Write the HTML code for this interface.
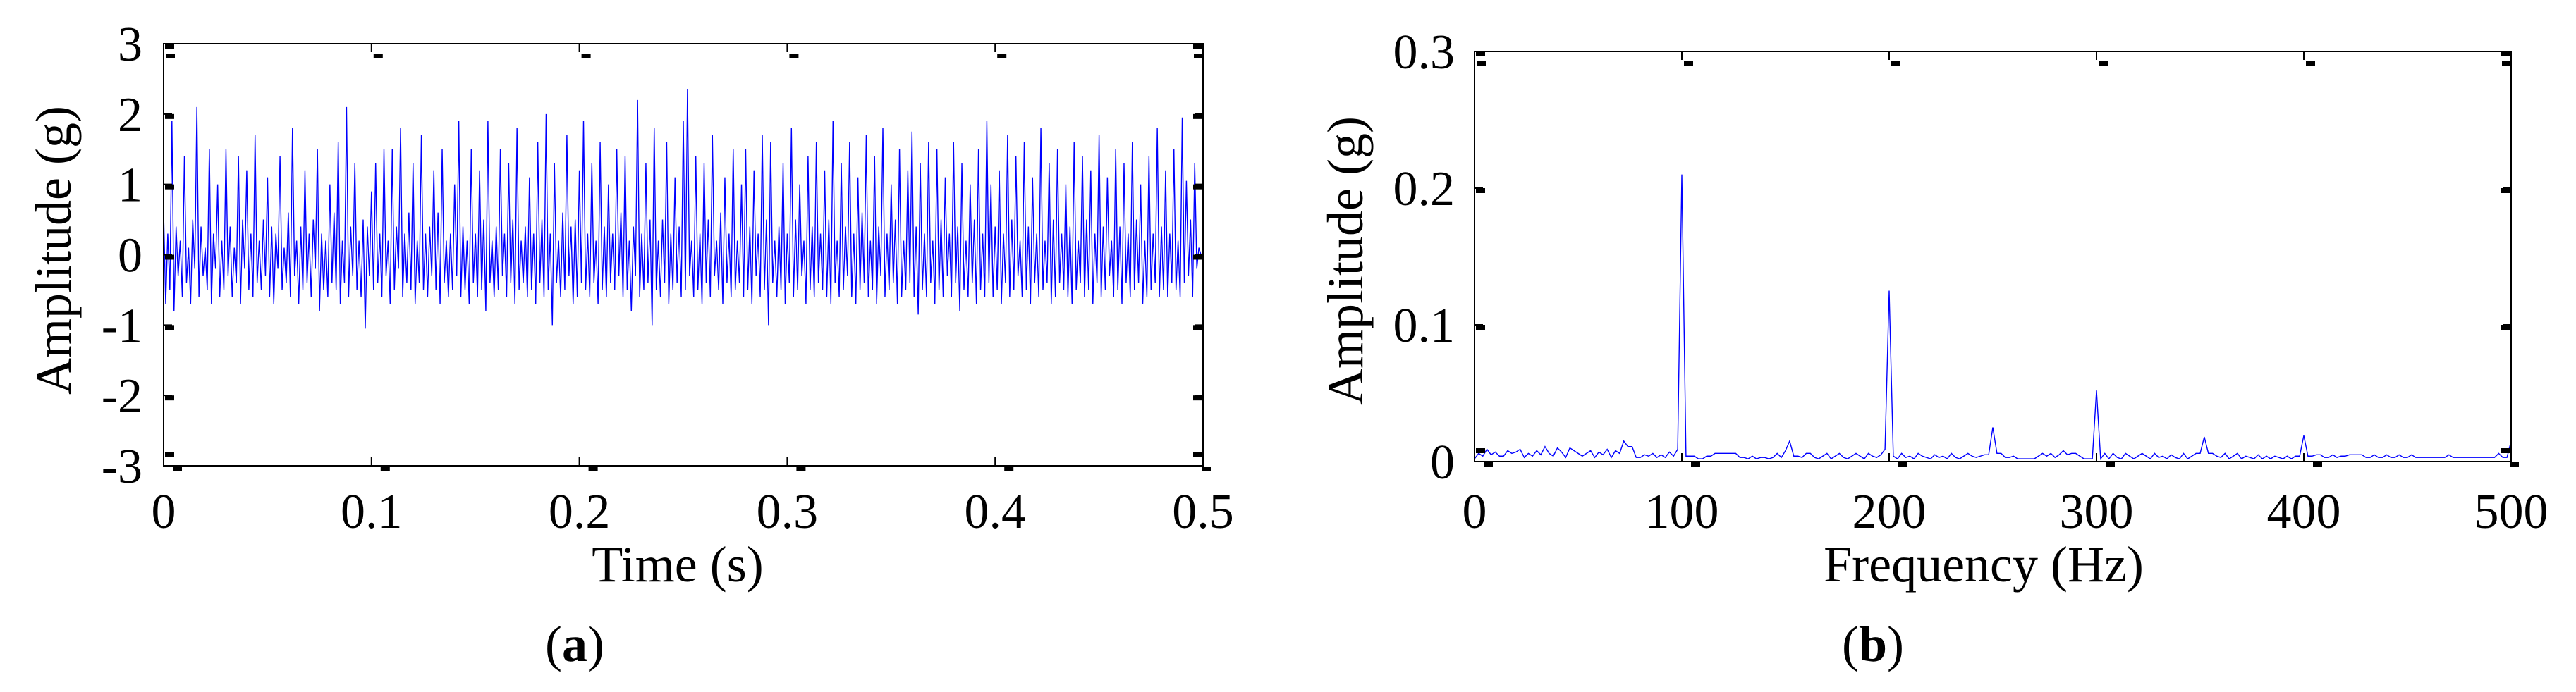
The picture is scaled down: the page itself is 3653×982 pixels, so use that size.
<!DOCTYPE html>
<html><head><meta charset="utf-8"><style>
html,body{margin:0;padding:0;background:#fff;}
svg{display:block;}
svg text{font-family:"Liberation Serif","Times New Roman","DejaVu Serif",serif !important;fill:#000;}
</style></head><body>
<svg id="fig" width="3653" height="982" viewBox="0 0 3653 982" font-family="Liberation Serif, serif" xmlns="http://www.w3.org/2000/svg">
<g id="chartA"></g>
<g id="chartB"></g>
<text x="815" y="938" font-size="72" text-anchor="middle" font-family="Liberation Serif, serif">(<tspan font-weight="bold">a</tspan>)</text>
<text x="2656" y="938" font-size="72" text-anchor="middle" font-family="Liberation Serif, serif">(<tspan font-weight="bold">b</tspan>)</text>
</svg>
<script>
// ---- Chart A data (time signal, 1 ms step) ----
const timeStep = 0.001;
const timeSignal = [
0.6,-0.7,0.3,-0.5,1.9,-0.8,0.4,-0.3,0.2,-0.6,1.4,-0.4,0.1,-0.7,0.5,-0.2,2.1,-0.6,0.4,-0.3,
0.1,-0.5,1.5,-0.7,0.3,-0.2,1.0,-0.6,0.2,-0.5,1.5,-0.3,0.4,-0.6,0.1,-0.4,1.4,-0.7,0.5,-0.2,
1.2,-0.5,0.3,-0.6,1.7,-0.4,0.2,-0.5,0.5,-0.3,1.1,-0.6,0.4,-0.7,0.3,-0.2,1.4,-0.5,0.1,-0.4,
0.6,-0.6,1.8,-0.3,0.2,-0.7,0.4,-0.5,1.2,-0.4,0.3,-0.6,0.5,-0.2,1.5,-0.8,0.3,-0.5,0.2,-0.6,
1.0,-0.4,0.6,-0.5,1.6,-0.7,0.2,-0.4,2.1,-0.6,0.4,-0.3,1.3,-0.5,0.2,-0.6,0.5,-1.05,0.4,-0.3,
0.9,-0.5,1.3,-0.4,0.3,-0.6,1.5,-0.3,0.2,-0.7,1.5,-0.5,0.4,-0.2,1.8,-0.6,0.3,-0.4,0.6,-0.5,
1.3,-0.7,0.2,-0.4,1.7,-0.5,0.3,-0.6,0.4,-0.3,1.2,-0.5,0.6,-0.7,1.5,-0.4,0.2,-0.6,0.3,-0.5,
1.0,-0.3,1.9,-0.6,0.4,-0.5,0.2,-0.7,1.5,-0.4,0.3,-0.6,1.2,-0.5,0.5,-0.8,1.9,-0.4,0.2,-0.6,
0.4,-0.5,1.5,-0.3,0.3,-0.6,1.3,-0.4,0.5,-0.7,1.8,-0.5,0.2,-0.4,0.4,-0.6,1.1,-0.5,0.3,-0.7,
1.6,-0.4,0.5,-0.6,2.0,-0.5,0.3,-1.0,1.3,-0.4,0.2,-0.6,0.6,-0.5,1.7,-0.3,0.4,-0.7,0.5,-0.6,
1.2,-0.4,1.9,-0.5,0.3,-0.6,1.3,-0.4,0.2,-0.7,1.6,-0.5,0.4,-0.6,1.0,-0.4,0.3,-0.5,1.5,-0.3,
0.6,-0.6,1.4,-0.5,0.2,-0.8,0.4,-0.3,2.2,-0.6,0.3,-0.5,1.3,-0.4,0.5,-1.0,1.8,-0.5,0.2,-0.6,
0.5,-0.4,1.6,-0.7,0.3,-0.5,1.1,-0.4,0.4,-0.6,1.9,-0.5,2.35,-0.3,0.2,-0.6,1.4,-0.5,0.3,-0.7,
1.3,-0.4,0.5,-0.6,1.7,-0.3,0.2,-0.5,0.6,-0.7,1.1,-0.4,0.3,-0.6,1.5,-0.5,0.2,-0.4,1.0,-0.6,
1.5,-0.5,0.4,-0.7,1.2,-0.3,0.3,-0.6,1.7,-0.5,0.5,-1.0,1.6,-0.4,0.2,-0.6,0.4,-0.5,1.3,-0.7,
0.3,-0.4,1.8,-0.6,0.5,-0.5,1.0,-0.3,0.2,-0.7,1.4,-0.5,0.4,-0.6,1.6,-0.4,0.3,-0.5,1.2,-0.6,
0.5,-0.7,1.9,-0.4,0.2,-0.6,1.3,-0.5,0.4,-0.3,1.6,-0.6,0.3,-0.7,1.1,-0.5,0.6,-0.4,1.7,-0.6,
0.2,-0.5,1.4,-0.7,0.4,-0.3,1.8,-0.6,0.3,-0.5,1.0,-0.4,0.5,-0.7,1.5,-0.6,0.2,-0.5,1.2,-0.4,
1.75,-0.6,0.4,-0.85,1.3,-0.5,0.3,-0.6,1.6,-0.4,0.2,-0.7,1.5,-0.5,0.5,-0.6,1.1,-0.3,0.3,-0.6,
1.6,-0.4,0.4,-0.8,1.3,-0.5,0.2,-0.6,1.0,-0.4,0.5,-0.7,1.5,-0.5,0.3,-0.6,1.9,-0.4,1.0,-0.6,
0.4,-0.5,1.2,-0.7,0.3,-0.4,1.7,-0.6,0.5,-0.5,1.4,-0.3,0.2,-0.6,1.6,-0.5,0.4,-0.7,1.1,-0.4,
0.3,-0.6,1.8,-0.5,0.2,-0.4,1.3,-0.7,0.5,-0.6,1.5,-0.4,0.3,-0.5,1.0,-0.6,0.4,-0.7,1.6,-0.5,
0.2,-0.4,1.4,-0.6,0.5,-0.5,1.2,-0.7,0.3,-0.4,1.7,-0.6,0.4,-0.5,1.1,-0.3,0.2,-0.6,1.5,-0.5,
0.4,-0.7,1.3,-0.4,0.3,-0.6,1.6,-0.5,0.5,-0.4,1.0,-0.7,0.2,-0.6,1.4,-0.5,0.3,-0.4,1.8,-0.6,
0.4,-0.5,1.2,-0.6,0.3,-0.4,1.5,-0.5,0.2,-0.6,1.95,-0.4,1.05,-0.3,0.5,-0.6,1.3,-0.2,0.1,0.0
];
const xTicksA = [0,0.1,0.2,0.3,0.4,0.5];
const xTickLabelsA = ["0","0.1","0.2","0.3","0.4","0.5"];
const yTicksA = [-3,-2,-1,0,1,2,3];
const yTickLabelsA = ["-3","-2","-1","0","1","2","3"];

// ---- Chart B data (spectrum, 2 Hz step) ----
const freqStep = 2;
const spectrumAmp = [
0.002,0.006,0.004,0.009,0.005,0.007,0.004,0.004,0.008,0.006,0.007,0.009,0.003,0.006,0.004,0.008,0.005,0.011,0.006,0.004,0.010,0.007,0.003,0.010,0.008,
0.006,0.004,0.006,0.008,0.003,0.007,0.005,0.009,0.003,0.008,0.006,0.015,0.011,0.011,0.003,0.003,0.005,0.004,0.006,0.003,0.005,0.003,0.007,0.004,0.009,
0.210,0.004,0.004,0.004,0.002,0.002,0.004,0.004,0.006,0.006,0.006,0.006,0.006,0.006,0.003,0.003,0.002,0.004,0.002,0.003,0.003,0.002,0.003,0.006,0.003,
0.008,0.015,0.004,0.004,0.003,0.006,0.006,0.003,0.002,0.004,0.006,0.002,0.004,0.006,0.003,0.002,0.004,0.006,0.004,0.002,0.006,0.004,0.003,0.005,0.009,
0.125,0.004,0.002,0.006,0.003,0.004,0.002,0.006,0.004,0.003,0.002,0.005,0.003,0.004,0.002,0.006,0.003,0.002,0.004,0.006,0.004,0.003,0.004,0.005,0.005,
0.025,0.006,0.006,0.003,0.003,0.004,0.002,0.002,0.002,0.002,0.002,0.004,0.006,0.004,0.006,0.003,0.005,0.008,0.005,0.006,0.006,0.004,0.002,0.002,0.002,
0.052,0.002,0.006,0.002,0.006,0.003,0.002,0.006,0.004,0.002,0.004,0.006,0.004,0.002,0.006,0.003,0.004,0.002,0.005,0.003,0.002,0.006,0.002,0.004,0.006,
0.006,0.018,0.006,0.006,0.004,0.003,0.006,0.002,0.004,0.006,0.002,0.004,0.003,0.002,0.005,0.002,0.004,0.002,0.004,0.003,0.002,0.004,0.002,0.004,0.004,
0.019,0.004,0.004,0.005,0.005,0.003,0.003,0.005,0.003,0.004,0.004,0.005,0.005,0.005,0.005,0.003,0.003,0.005,0.003,0.003,0.005,0.003,0.003,0.005,0.003,
0.003,0.005,0.003,0.003,0.003,0.003,0.003,0.003,0.003,0.003,0.005,0.003,0.003,0.003,0.003,0.003,0.003,0.003,0.003,0.003,0.003,0.003,0.006,0.003,0.003,
0.015
];
const xTicksB = [0,100,200,300,400,500];
const xTickLabelsB = ["0","100","200","300","400","500"];
const yTicksB = [0,0.1,0.2,0.3];
const yTickLabelsB = ["0","0.1","0.2","0.3"];

const NS = "http://www.w3.org/2000/svg";
const FONT = "Liberation Serif, Times New Roman, serif";
function mk(parent, tag, attrs){
  const e = document.createElementNS(NS, tag);
  for (const k in attrs) e.setAttribute(k, attrs[k]);
  parent.appendChild(e);
  return e;
}

function drawChart(g, cfg){
  const {L,R,T,B,xmin,xmax,ymin,ymax} = cfg;
  const sx = v => L + (v - xmin) / (xmax - xmin) * (R - L);
  const sy = v => B - (v - ymin) / (ymax - ymin) * (B - T);
  let d = "";
  cfg.ys.forEach((v,i) => { d += (i ? "L" : "M") + sx(cfg.xs(i)).toFixed(2) + " " + sy(v).toFixed(2); });
  const line = mk(g, "path", {d: d, fill: "none", stroke: "#0000ff", "stroke-width": "1.4", "stroke-linejoin": "miter"});
  
  
  const frame = mk(g, "rect", {x: L, y: T, width: R - L, height: B - T, fill: "none", stroke: "#000", "stroke-width": "2"});
  
  
  cfg.xTicks.forEach((t,i) => {
    const x = sx(t);
    const tk = mk(g, "path", {d: `M${x} ${B}V${B-12}M${x} ${T}V${T+12}`, stroke: "#000", "stroke-width": "2"});
    
    
    const s1 = mk(g, "rect", {x: Math.min(x + 3, R - 13), y: T + 14, width: 13, height: 7, fill: "#000"});
    
    
    const s2 = mk(g, "rect", {x: Math.min(x + 13, R - 2), y: B + 1, width: 13, height: 7, fill: "#000"});
    
    
    const lb = mk(g, "text", {x: x, y: cfg.xLabelY, "font-size": 70, "text-anchor": "middle", "font-family": FONT});
    lb.textContent = cfg.xTickLabels[i];
    
    
  });
  cfg.yTicks.forEach((t,i) => {
    const y = sy(t);
    const tk = mk(g, "path", {d: `M${L} ${y}H${L+12}M${R} ${y}H${R-12}`, stroke: "#000", "stroke-width": "2"});
    
    
    const s1 = mk(g, "rect", {x: L + 2, y: Math.min(y, B - 19), width: 13, height: 7, fill: "#000"});
    
    
    const s2 = mk(g, "rect", {x: R - 14, y: Math.min(y, B - 19), width: 13, height: 7, fill: "#000"});
    
    
    const lb = mk(g, "text", {x: cfg.yLabelX, y: y + 24, "font-size": 70, "text-anchor": "end", "font-family": FONT});
    lb.textContent = cfg.yTickLabels[i];
    
    
  });
  const xt = mk(g, "text", {x: cfg.xTitleX, y: 825, "font-size": 72, "text-anchor": "middle", "font-family": FONT});
  xt.textContent = cfg.xTitle;
  
  
  const yt = mk(g, "text", {x: 0, y: 0, "font-size": 72, "text-anchor": "middle", "font-family": FONT, transform: `translate(${cfg.yTitleX} ${cfg.yTitleY}) rotate(-90)`});
  yt.textContent = "Amplitude (g)";
  
  
}

drawChart(document.getElementById("chartA"), {
  L: 232, R: 1706, T: 62, B: 661, xmin: 0, xmax: 0.5, ymin: -3, ymax: 3,
  ys: timeSignal, xs: i => i * timeStep,
  xTicks: xTicksA, xTickLabels: xTickLabelsA, yTicks: yTicksA, yTickLabels: yTickLabelsA,
  xLabelY: 749, yLabelX: 202, xTitle: "Time (s)", xTitleX: 961, yTitleX: 100, yTitleY: 355
});
drawChart(document.getElementById("chartB"), {
  L: 2091, R: 3561, T: 73, B: 655, xmin: 0, xmax: 500, ymin: 0, ymax: 0.3,
  ys: spectrumAmp, xs: i => i * freqStep,
  xTicks: xTicksB, xTickLabels: xTickLabelsB, yTicks: yTicksB, yTickLabels: yTickLabelsB,
  xLabelY: 749, yLabelX: 2063, xTitle: "Frequency (Hz)", xTitleX: 2813, yTitleX: 1932, yTitleY: 370
});
</script>
</body></html>
